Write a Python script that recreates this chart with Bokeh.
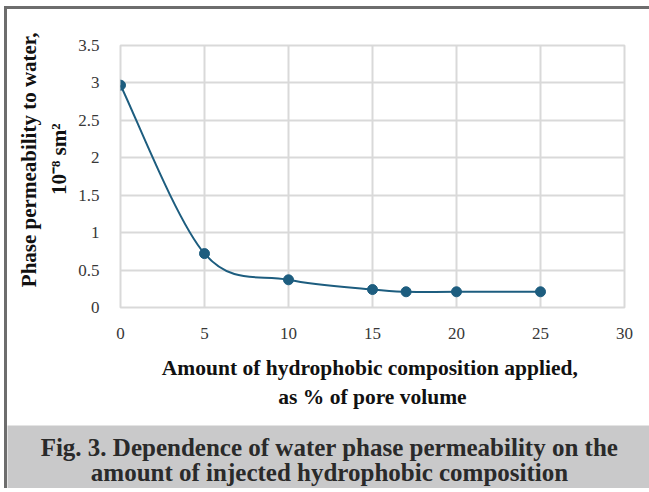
import numpy as np
from bokeh.plotting import figure
from bokeh.models import Label, Title, ColumnDataSource, FixedTicker, NumeralTickFormatter
from bokeh.layouts import column
from bokeh.embed import file_html
from bokeh.resources import INLINE

# ---- data ----
amount = [0, 5, 10, 15, 17, 20, 25]
permeability = [2.97, 0.72, 0.37, 0.24, 0.21, 0.21, 0.21]
x_ticks = [0, 5, 10, 15, 20, 25, 30]
y_ticks = [0, 0.5, 1, 1.5, 2, 2.5, 3, 3.5]
x_title = ["Amount of hydrophobic  composition applied,", "as % of pore volume"]
y_title = ["Phase permeability to water,", "10\u207b\u2078 sm\u00b2"]
caption = ["Fig. 3. Dependence of water phase permeability on the",
           "amount of injected hydrophobic composition"]

LINE = "#1d5d7f"
GRID = "#d9d9d9"
SERIF = "Liberation Serif"
FRAME_GRAY = "#6d6d6d"
BAND = "#c9c9ca"

# smoothed (Catmull-Rom style) bezier segments built from the data points
xs = np.array(amount, dtype=float)
ys = np.array(permeability, dtype=float)
n = len(xs)
px = np.concatenate([[xs[0]], xs, [xs[-1]]])
py = np.concatenate([[ys[0]], ys, [ys[-1]]])
seg = dict(x0=[], y0=[], x1=[], y1=[], cx0=[], cy0=[], cx1=[], cy1=[])
for i in range(n - 1):
    p0x, p0y = px[i], py[i]
    p1x, p1y = px[i + 1], py[i + 1]
    p2x, p2y = px[i + 2], py[i + 2]
    p3x, p3y = px[i + 3], py[i + 3]
    seg["x0"].append(p1x); seg["y0"].append(p1y)
    seg["x1"].append(p2x); seg["y1"].append(p2y)
    seg["cx0"].append(p1x + (p2x - p0x) / 6.0)
    seg["cy0"].append(p1y + (p2y - p0y) / 6.0)
    seg["cx1"].append(p2x - (p3x - p1x) / 6.0)
    seg["cy1"].append(p2y - (p3y - p1y) / 6.0)

W = 642
H_MAIN = 416
H_CAP = 63

p = figure(width=W, height=H_MAIN, x_range=(0, 30), y_range=(0, 3.5),
           output_backend="svg", toolbar_location=None,
           min_border_left=113, min_border_right=25,
           min_border_top=36, min_border_bottom=118,
           background_fill_color="white", border_fill_color="white")
p.frame_align = False

p.outline_line_color = GRID
p.outline_line_width = 2

for ax, ticks in ((p.xaxis, x_ticks), (p.yaxis, y_ticks)):
    ax.ticker = FixedTicker(ticks=ticks)
    ax.axis_line_color = None
    ax.major_tick_line_color = None
    ax.minor_tick_line_color = None
    ax.major_label_text_font = SERIF
    ax.major_label_text_font_size = "17px"
    ax.major_label_text_color = "#383838"
p.xaxis.major_label_standoff = 14
p.yaxis.major_label_standoff = 15
p.yaxis.formatter = NumeralTickFormatter(format="0.[0]")
p.xaxis.formatter = NumeralTickFormatter(format="0")

p.xaxis.axis_label = x_title[0] + "\n" + x_title[1]
p.xaxis.axis_label_text_font = SERIF
p.xaxis.axis_label_text_font_size = "21.5px"
p.xaxis.axis_label_text_font_style = "bold"
p.xaxis.axis_label_text_color = "#111111"
p.xaxis.axis_label_text_line_height = 1.24
p.xaxis.axis_label_standoff = 14

p.xgrid.ticker = FixedTicker(ticks=x_ticks)
p.ygrid.ticker = FixedTicker(ticks=y_ticks)
p.grid.grid_line_color = GRID
p.grid.grid_line_width = 2

p.bezier(x0="x0", y0="y0", x1="x1", y1="y1", cx0="cx0", cy0="cy0",
         cx1="cx1", cy1="cy1", source=ColumnDataSource(seg),
         line_color=LINE, line_width=2)
p.scatter(amount, permeability, size=10, marker="circle",
          fill_color=LINE, line_color=LINE)

# y axis title: two lines, stacked outward from the axis
t2 = Title(text=y_title[1], align="right", offset=78, standoff=9,
           vertical_align="bottom", text_font=SERIF, text_font_size="21px",
           text_font_style="bold", text_color="#111111")
t1 = Title(text=y_title[0], align="right", offset=-13, standoff=0,
           vertical_align="bottom", text_font=SERIF, text_font_size="21px",
           text_font_style="bold", text_color="#111111")
p.add_layout(t2, "left")
p.add_layout(t1, "left")

# caption band
c = figure(width=W, height=H_CAP, x_range=(0, 1), y_range=(0, 1),
           output_backend="svg", toolbar_location=None, min_border=0,
           x_axis_location=None, y_axis_location=None,
           background_fill_color=BAND, border_fill_color=BAND,
           outline_line_color=None)
c.frame_align = False
c.grid.visible = False
for txt, mid in zip(caption, (22, 47)):
    c.add_layout(Label(x=322 / W, y=1 - mid / H_CAP, text=txt, text_font=SERIF,
                       text_font_size="25px", text_font_style="bold",
                       text_color="#2a2a2a", text_align="center",
                       text_baseline="middle"))

layout = column(p, c, spacing=0,
                styles={"border-top": "3px solid " + FRAME_GRAY,
                        "border-left": "3px solid " + FRAME_GRAY,
                        "margin-left": "4px", "margin-top": "6px"})

open("out.html", "w").write(file_html(layout, INLINE))
